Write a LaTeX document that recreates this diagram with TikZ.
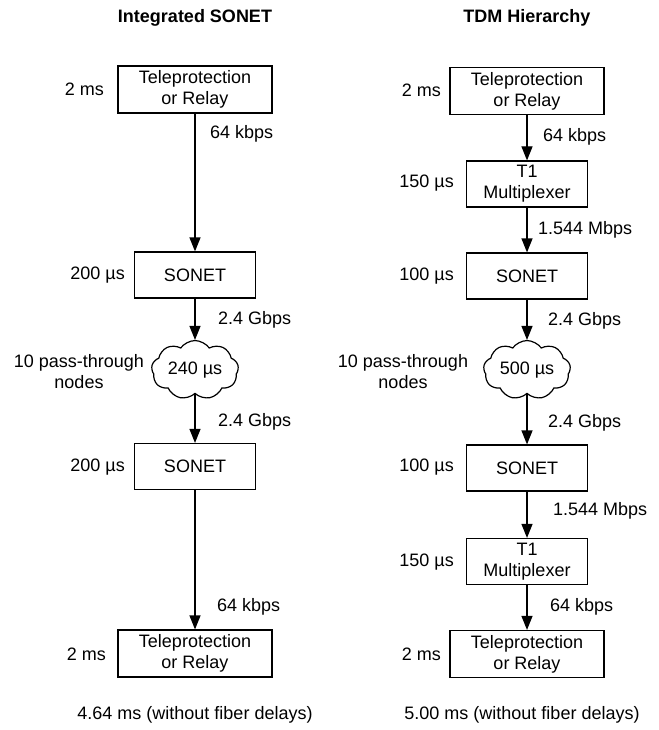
\documentclass[tikz,border=0pt]{standalone}
\usepackage{fontspec}
\setmainfont{Liberation Sans}
\usepackage{tikz}
\usetikzlibrary{arrows.meta,shapes.symbols}

\begin{document}
\begin{tikzpicture}[x=1pt,y=-1pt,
       every node/.style={font=\fontsize{18}{21}\selectfont},
       box/.style={draw,line width=1.2pt,align=center,inner sep=0pt},
       tele/.style={box,minimum width=154pt,minimum height=47pt},
       unit/.style={box,minimum width=121pt,minimum height=46pt},
       pass/.style={draw,line width=1.2pt,cloud,cloud puffs=9,cloud puff arc=110,aspect=1.6,minimum width=87pt,minimum height=55pt,inner sep=0pt},
       rate/.style={anchor=west,inner sep=0pt},
       delay/.style={anchor=east,inner sep=0pt},
       link/.style={-{Triangle[length=14pt,width=11pt]},line width=1.2pt}]
       \useasboundingbox(0,0)rectangle(658,730);
       \pgfmathsetmacro{\xl}{195};
       \pgfmathsetmacro{\xr}{527};
       % integrated sonet
       \node[font=\fontsize{18}{21}\selectfont\bfseries](tl)at(\xl,18){Integrated SONET};
       \node[tele](L1)at(\xl,89.5){Teleprotection\\or Relay};
       \node[unit](L2)at(\xl,275){SONET};
       \node[pass](L3)at(\xl,370){240 µs};
       \node[unit](L4)at(\xl,466.5){SONET};
       \node[tele](L5)at(\xl,653.5){Teleprotection\\or Relay};
       \node[delay](dl1)at(104,89){2 ms};
       \node[delay](dl2)at(125,275){200 µs};
       \node[align=center](dl3)at(79,372){10 pass-through\\nodes};
       \node[delay](dl4)at(125,467){200 µs};
       \node[delay](dl5)at(106,654){2 ms};
       \node[rate](rl1)at(210,134){64 kbps};
       \node[rate](rl2)at(218,320){2.4 Gbps};
       \node[rate](rl3)at(218,422){2.4 Gbps};
       \node[rate](rl4)at(217,607){64 kbps};
       \node(sl)at(\xl,715){4.64 ms (without fiber delays)};
       \draw[link](L1)--(L2);
       \draw[link](L2)--(L3);
       \draw[link](L3)--(L4);
       \draw[link](L4)--(L5);
       % tdm hierarchy
       \node[font=\fontsize{18}{21}\selectfont\bfseries](tr)at(\xr,18){TDM Hierarchy};
       \node[tele](R1)at(\xr,91){Teleprotection\\or Relay};
       \node[unit](R2)at(\xr,184){T1\\Multiplexer};
       \node[unit](R3)at(\xr,276){SONET};
       \node[pass](R4)at(\xr,370){500 µs};
       \node[unit](R5)at(\xr,468){SONET};
       \node[unit](R6)at(\xr,561.5){T1\\Multiplexer};
       \node[tele](R7)at(\xr,654){Teleprotection\\or Relay};
       \node[delay](dr1)at(441,90){2 ms};
       \node[delay](dr2)at(454,183){150 µs};
       \node[delay](dr3)at(454,276){100 µs};
       \node[align=center](dr4)at(403,372){10 pass-through\\nodes};
       \node[delay](dr5)at(454,467){100 µs};
       \node[delay](dr6)at(454,562){150 µs};
       \node[delay](dr7)at(441,654){2 ms};
       \node[rate](rr1)at(543,137){64 kbps};
       \node[rate](rr2)at(538,230){1.544 Mbps};
       \node[rate](rr3)at(548,321){2.4 Gbps};
       \node[rate](rr4)at(548,423){2.4 Gbps};
       \node[rate](rr5)at(553,511){1.544 Mbps};
       \node[rate](rr6)at(550,607){64 kbps};
       \node(sr)at(522,715){5.00 ms (without fiber delays)};
       \draw[link](R1)--(R2);
       \draw[link](R2)--(R3);
       \draw[link](R3)--(R4);
       \draw[link](R4)--(R5);
       \draw[link](R5)--(R6);
       \draw[link](R6)--(R7);
      \end{tikzpicture}
\end{document}
